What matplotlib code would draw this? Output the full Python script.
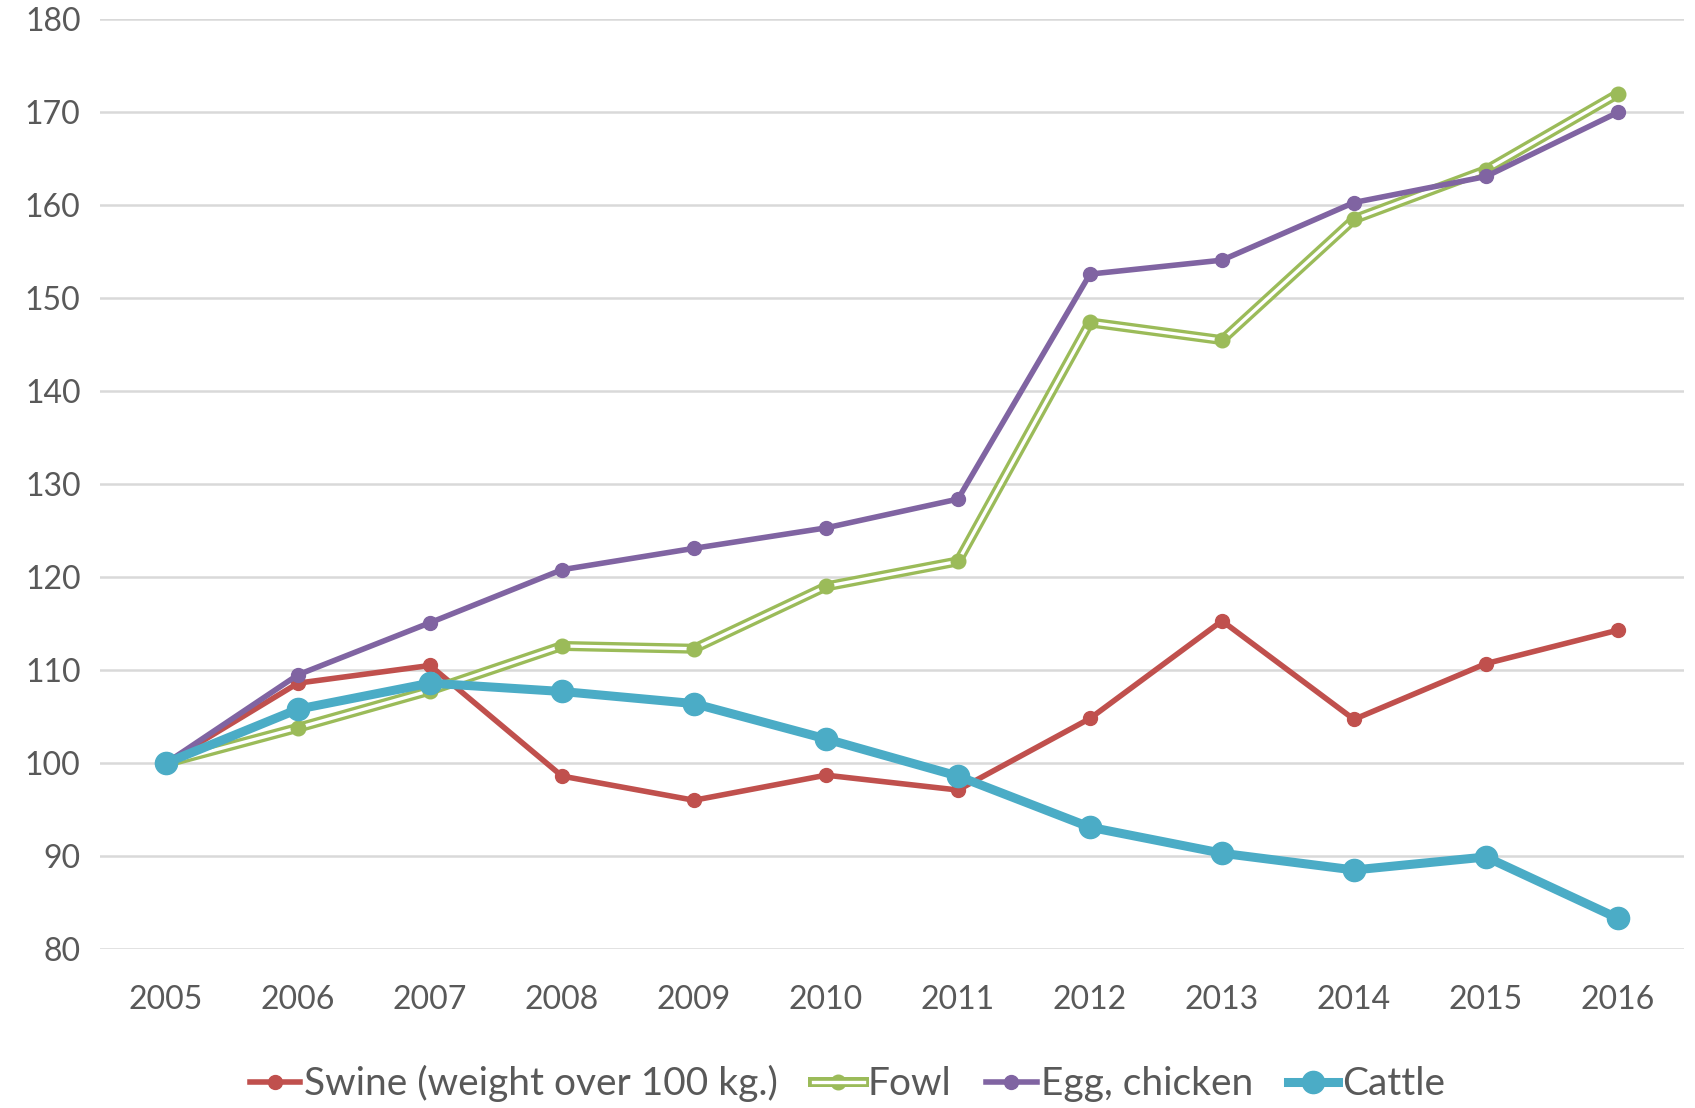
import matplotlib.pyplot as plt
from matplotlib.lines import Line2D
from matplotlib.legend_handler import HandlerTuple

years = ['2005', '2006', '2007', '2008', '2009', '2010', '2011', '2012', '2013', '2014', '2015', '2016']
swine = [100, 108.6, 110.5, 98.6, 96.0, 98.7, 97.1, 104.8, 115.3, 104.7, 110.7, 114.3]
fowl = [100, 103.8, 107.8, 112.6, 112.3, 119.0, 121.7, 147.4, 145.5, 158.5, 163.8, 172.0]
egg = [100, 109.5, 115.1, 120.8, 123.1, 125.3, 128.4, 152.6, 154.1, 160.3, 163.1, 170.0]
cattle = [100, 105.8, 108.6, 107.7, 106.4, 102.6, 98.6, 93.1, 90.3, 88.5, 89.9, 83.3]

plt.rcParams['font.family'] = ['Lato', 'DejaVu Sans']

RED = '#C0504D'
GREEN = '#9BBB59'
PURPLE = '#8064A2'
BLUE = '#4BACC6'
TXT = '#595959'

fig = plt.figure(figsize=(16.95, 11.08), dpi=100)
ax = fig.add_axes([0.059, 0.1435, 0.9345, 0.839])

x = list(range(len(years)))

# swine
ax.plot(x, swine, color=RED, lw=4.0, marker='o', ms=10, zorder=3)
# fowl, double line
ax.plot(x, fowl, color=GREEN, lw=7.2, zorder=4)
ax.plot(x, fowl, color='white', lw=2.4, zorder=4.1)
ax.plot(x, fowl, ls='none', color=GREEN, marker='o', ms=10.5, zorder=4.2)
# egg
ax.plot(x, egg, color=PURPLE, lw=4.0, marker='o', ms=10, zorder=5)
# cattle
ax.plot(x, cattle, color=BLUE, lw=6.5, marker='o', ms=16, zorder=6)

ax.set_xlim(-0.5, len(years) - 0.5)
ax.set_ylim(80, 180)
ax.set_yticks(range(80, 181, 10))
ax.set_xticks(x)
ax.set_xticklabels(years)
ax.tick_params(axis='both', length=0, labelsize=23, colors=TXT)
ax.tick_params(axis='x', pad=26)
ax.tick_params(axis='y', pad=14)
ax.grid(axis='y', color='#D9D9D9', lw=1.8)
ax.set_axisbelow(True)
for s in ax.spines.values():
    s.set_visible(False)

# legend
h_swine = Line2D([], [], color=RED, lw=4.0, marker='o', ms=10)
h_fowl = (Line2D([], [], color=GREEN, lw=7.2, marker='o', ms=10.5),
          Line2D([], [], color='white', lw=2.4))
h_egg = Line2D([], [], color=PURPLE, lw=4.0, marker='o', ms=10)
h_cattle = Line2D([], [], color=BLUE, lw=6.5, marker='o', ms=16)
leg = fig.legend([h_swine, h_fowl, h_egg, h_cattle],
                 ['Swine (weight over 100 kg.)', 'Fowl', 'Egg, chicken', 'Cattle'],
                 handler_map={tuple: HandlerTuple(ndivide=1, pad=0)},
                 loc='center', bbox_to_anchor=(0.5, 0.022), ncol=4, frameon=False,
                 fontsize=28, handlelength=1.3, handletextpad=0.1, columnspacing=0.9)
for t in leg.get_texts():
    t.set_color(TXT)

fig.savefig('out.png', dpi=100)
